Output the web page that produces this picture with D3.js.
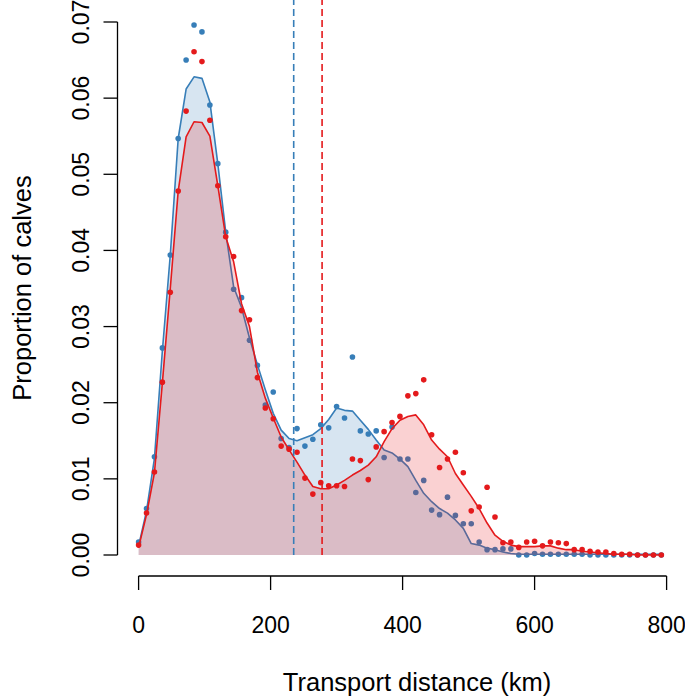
<!DOCTYPE html>
<html>
<head>
<meta charset="utf-8">
<script src="https://cdn.jsdelivr.net/npm/d3@7"></script>
<style>
body { margin: 0; background: #fff; }
svg text { font-family: "Liberation Sans", Arial, sans-serif; fill: #000; }
</style>
</head>
<body>
<script>
// distance bins (km)
var distances = [0,12,24,36,48,60,72,84,96,108,120,132,144,156,168,180,192,204,216,228,
    240,252,264,276,288,300,312,324,336,348,360,372,384,396,408,420,432,444,456,468,
    480,492,504,516,528,540,552,564,576,588,600,612,624,636,648,660,672,684,696,708,
    720,732,744,756,768,780,792];

// observed proportions
var bluePoints = [0.0017,0.0061,0.0129,0.0272,0.0394,0.0547,0.0650,0.0696,0.0687,0.0591,
    0.0514,0.0424,0.0349,0.0338,0.0282,0.0249,0.0197,0.0214,0.0153,0.0141,
    0.0166,0.0143,0.0152,0.0171,0.0167,0.0195,0.0180,0.0260,0.0163,0.0159,
    0.0163,0.0128,0.0168,0.0126,0.0126,0.0082,0.0098,0.0059,0.0053,0.0076,
    0.0052,0.0041,0.0041,0.0017,0.0007,0.0007,0.0008,0.0008,0.0000,0.0000,
    0.0002,0.0001,0.0001,0.0001,0.0001,0.0001,0.0001,0,0,0,
    0,0,0,0,0,0,0];
var redPoints = [0.0013,0.0055,0.0109,0.0227,0.0345,0.0478,0.0583,0.0661,0.0648,0.0571,
    0.0485,0.0418,0.0392,0.0321,0.0309,0.0233,0.0193,0.0179,0.0143,0.0139,
    0.0135,0.0101,0.0080,0.0095,0.0091,0.0091,0.0090,0.0126,0.0124,0.0099,
    0.0142,0.0162,0.0174,0.0182,0.0209,0.0212,0.0230,0.0158,0.0115,0.0126,
    0.0135,0.0108,0.0058,0.0063,0.0089,0.0050,0.0016,0.0017,0.0010,0.0017,
    0.0018,0.0012,0.0017,0.0016,0.0015,0.0007,0.0007,0.0005,0.0004,0.0004,
    0.0002,0.0001,0.0001,0,0,0,0];

// smoothed curves
var blueSmooth = [0.0012,0.0058,0.0127,0.0268,0.0394,0.0547,0.0612,0.0628,0.0626,0.0595,
    0.0514,0.0424,0.0352,0.0325,0.0285,0.0250,0.0217,0.0186,0.0164,0.0153,
    0.0150,0.0154,0.0158,0.0166,0.0178,0.0193,0.0190,0.0189,0.0177,0.0165,
    0.0151,0.0138,0.0134,0.0126,0.0116,0.0098,0.0081,0.0070,0.0061,0.0055,
    0.0046,0.0035,0.0015,0.0013,0.0009,0.0007,0.0004,0.0002,0.0001,0.0001,
    0.0001,0.0001,0.0001,0.0001,0.0001,0.0001,0.0001,0.0001,0.0001,0.0001,
    0.0001,0.0001,0.0001,0.0001,0.0001,0.0001,0.0001];
var redSmooth = [0.0010,0.0053,0.0108,0.0226,0.0350,0.0478,0.0549,0.0569,0.0568,0.0550,
    0.0485,0.0418,0.0385,0.0330,0.0300,0.0240,0.0206,0.0180,0.0155,0.0138,
    0.0122,0.0105,0.0090,0.0087,0.0087,0.0092,0.0098,0.0105,0.0111,0.0118,
    0.0129,0.0149,0.0166,0.0177,0.0182,0.0184,0.0171,0.0151,0.0139,0.0129,
    0.0107,0.0092,0.0077,0.0061,0.0042,0.0026,0.0018,0.0013,0.0011,0.0011,
    0.0011,0.0012,0.0012,0.0009,0.0007,0.0007,0.0005,0.0004,0.0003,0.0002,
    0.0001,0.0001,0.0001,0,0,0,0];

// mean distances (dashed lines)
var blueMean = 235;
var redMean = 278;

var xTicks = [0,200,400,600,800];
var yTicks = [0,0.01,0.02,0.03,0.04,0.05,0.06,0.07];

var width = 685;
var height = 699;
var blue = "#377EB8";
var red = "#E41A1C";

var svg = d3.select("body")
            .append("svg")
            .attr("width", width)
            .attr("height", height);

var x = d3.scaleLinear().domain([0,800]).range([138.6,666.6]);
var y = d3.scaleLinear().domain([0,0.07]).range([555,22]);

function drawSeries(vals, smooth, col){
    var rows = distances.map(function(d,i){ return {d:d, v:vals[i], s:smooth[i]}; });
    var area = d3.area().x(function(r){ return x(r.d); }).y0(y(0)).y1(function(r){ return y(r.s); });
    var line = d3.line().x(function(r){ return x(r.d); }).y(function(r){ return y(r.s); });
    svg.append("path").attr("d", area(rows)).attr("fill", col).attr("fill-opacity", 0.2);
    svg.append("path").attr("d", line(rows)).attr("fill", "none")
        .attr("stroke", col).attr("stroke-width", 1.6).attr("stroke-linejoin", "round");
    svg.append("g").selectAll("circle").data(rows).enter().append("circle")
        .attr("cx", function(r){ return x(r.d); })
        .attr("cy", function(r){ return y(r.v); })
        .attr("r", 2.8)
        .attr("fill", col);
}

drawSeries(bluePoints, blueSmooth, blue);
drawSeries(redPoints, redSmooth, red);

[[blueMean, blue],[redMean, red]].forEach(function(m){
    svg.append("line")
        .attr("x1", x(m[0])).attr("x2", x(m[0]))
        .attr("y1", y(0)).attr("y2", 0)
        .attr("stroke", m[1]).attr("stroke-width", 1.6)
        .attr("stroke-dasharray", "7,4");
});

// axes, R style
var xAxis = svg.append("g").attr("transform", "translate(0,576)");
xAxis.append("line").attr("x1", x(0)).attr("x2", x(800)).attr("stroke", "#000").attr("stroke-width", 1.3);
xAxis.selectAll(".tk").data(xTicks).enter().append("line")
    .attr("x1", function(d){ return x(d); }).attr("x2", function(d){ return x(d); })
    .attr("y1", 0).attr("y2", 14).attr("stroke", "#000").attr("stroke-width", 1.3);
xAxis.selectAll("text").data(xTicks).enter().append("text")
    .attr("x", function(d){ return x(d); }).attr("y", 57)
    .attr("text-anchor", "middle").style("font-size", "23px")
    .text(function(d){ return d; });

var yAxis = svg.append("g").attr("transform", "translate(117.5,0)");
yAxis.append("line").attr("y1", y(0)).attr("y2", y(0.07)).attr("stroke", "#000").attr("stroke-width", 1.3);
yAxis.selectAll(".tk").data(yTicks).enter().append("line")
    .attr("y1", function(d){ return y(d); }).attr("y2", function(d){ return y(d); })
    .attr("x1", 0).attr("x2", -14).attr("stroke", "#000").attr("stroke-width", 1.3);
yAxis.selectAll("text").data(yTicks).enter().append("text")
    .attr("transform", function(d){ return "translate(-29," + y(d) + ") rotate(-90)"; })
    .attr("text-anchor", "middle").style("font-size", "23px")
    .text(function(d){ return d.toFixed(2); });

svg.append("text")
    .attr("x", 417).attr("y", 691)
    .attr("text-anchor", "middle").style("font-size", "25.5px")
    .text("Transport distance (km)");

svg.append("text")
    .attr("transform", "translate(31,288) rotate(-90)")
    .attr("text-anchor", "middle").style("font-size", "25.5px")
    .text("Proportion of calves");
</script>
</body>
</html>
